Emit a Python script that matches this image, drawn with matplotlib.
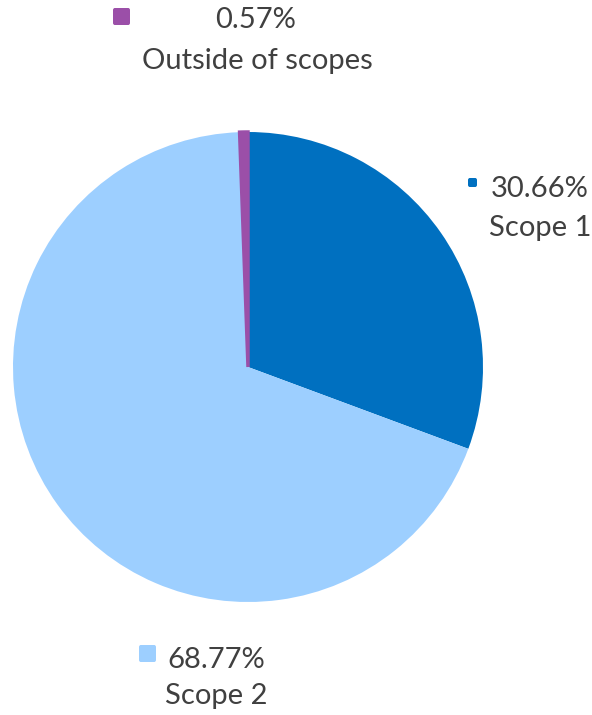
import matplotlib.pyplot as plt
from matplotlib.patches import FancyBboxPatch

# Emission share by scope
labels = ['Scope 1', 'Scope 2', 'Outside of scopes']
shares = [30.66, 68.77, 0.57]
colors = ['#0070C0', '#9DCFFF', '#9B4FA8']

W, H = 592, 715
TEXT = '#404040'
plt.rcParams['font.family'] = ['Lato', 'DejaVu Sans']

fig = plt.figure(figsize=(W / 100, H / 100), dpi=100)
# pie axes: centre (248, 367), radius 235 in pixels
cx, cy, r = 248, 367, 235
ax = fig.add_axes([(cx - r) / W, 1 - (cy + r) / H, 2 * r / W, 2 * r / H])
wedges, _ = ax.pie(shares, colors=colors, startangle=90, counterclock=False,
                   radius=1.0, wedgeprops=dict(linewidth=0))
# the thin slice gets an outline in its own colour so it stays visible
wedges[2].set_edgecolor(colors[2])
wedges[2].set_linewidth(2.5)
ax.set_xlim(-1, 1)
ax.set_ylim(-1, 1)
ax.set_aspect('equal')
ax.axis('off')


def px(x, y):
    return x / W, 1 - y / H


# label anchors (pixels): value line centre, name line centre, marker box
label_pos = {
    'Outside of scopes': ((256, 20), (257, 61), (113, 8, 17)),
    'Scope 1': ((540, 189), (540, 228), (468, 178, 9)),
    'Scope 2': ((216, 660), (216, 696), (139, 645, 17)),
}

for name, share, color in zip(labels, shares, colors):
    (vx, vy), (nx, ny), (mx, my, ms) = label_pos[name]
    fig.text(*px(vx, vy), f'{share:.2f}%', ha='center', va='center',
             fontsize=21, color=TEXT)
    fig.text(*px(nx, ny), name, ha='center', va='center',
             fontsize=21, color=TEXT)
    x0, y0 = px(mx, my + ms)
    box = FancyBboxPatch((x0, y0), ms / W, ms / H,
                         boxstyle='round,pad=0,rounding_size=0.003',
                         transform=fig.transFigure, facecolor=color,
                         edgecolor='none')
    fig.add_artist(box)

fig.savefig('out.png', dpi=100, facecolor='white')
